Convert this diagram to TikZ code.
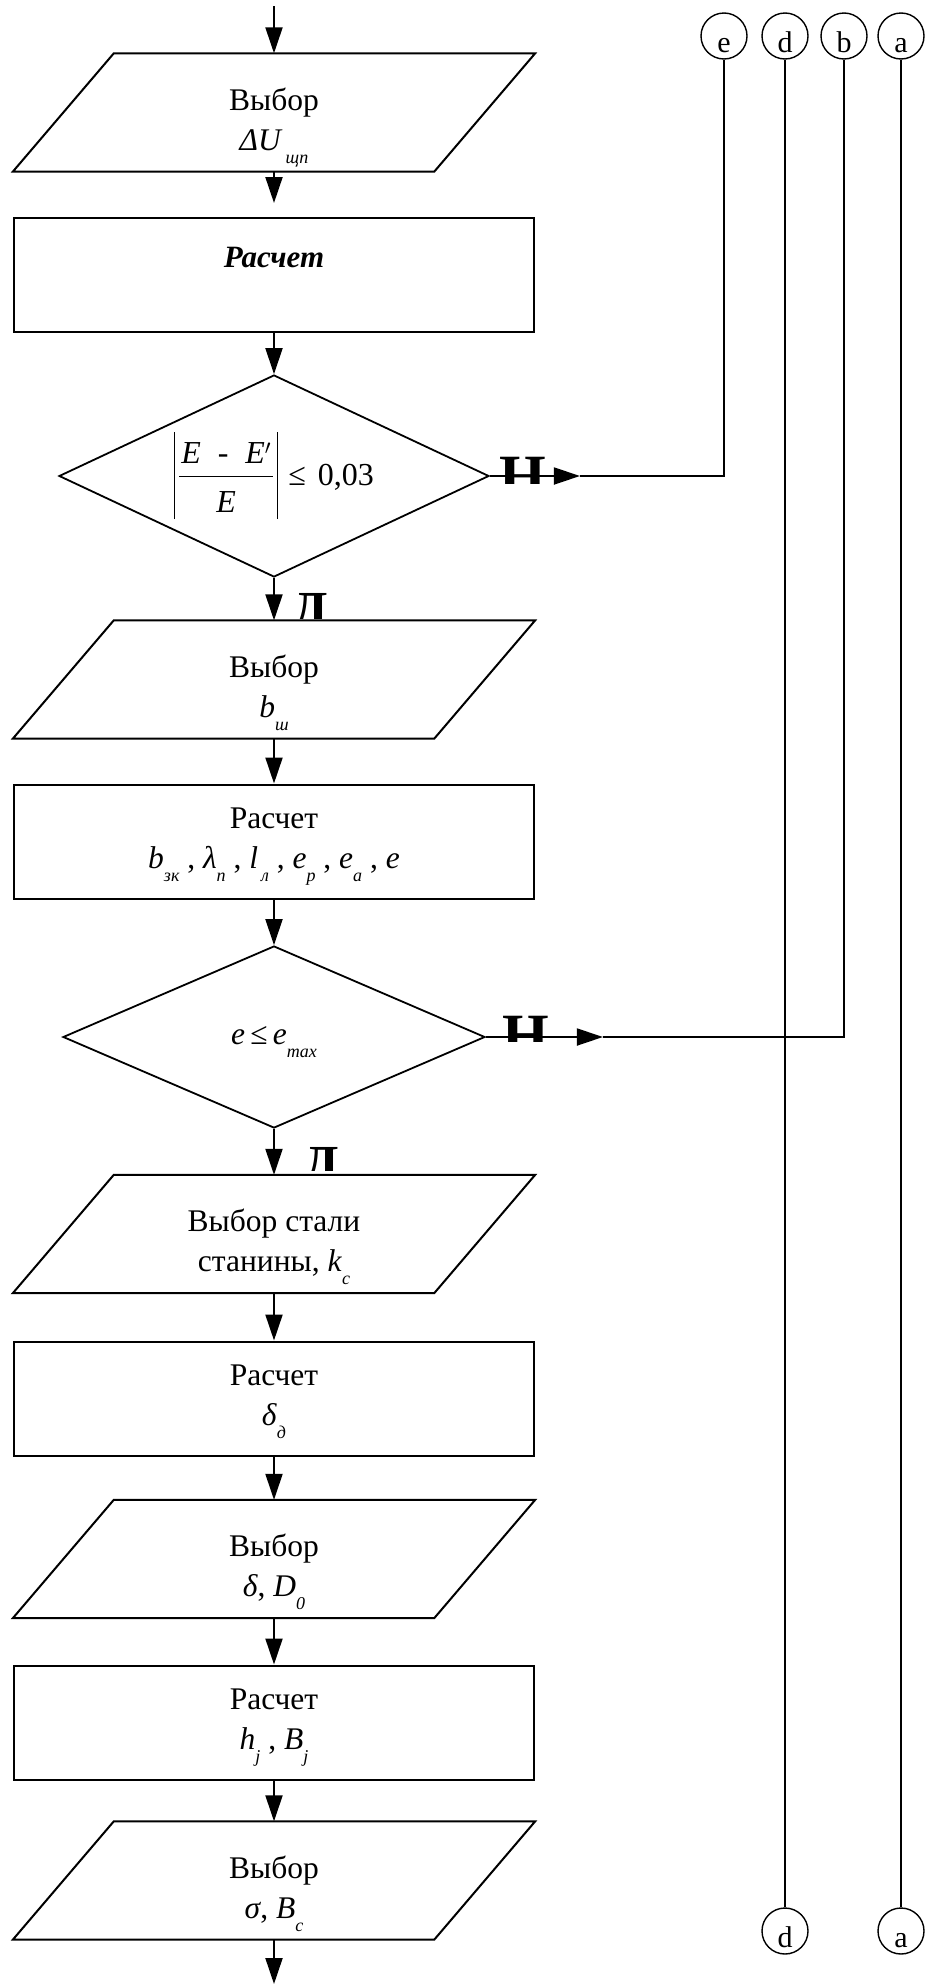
\documentclass[tikz,border=0pt]{standalone}
\usepackage{amsmath}
\usepackage{graphicx}
\usepackage{fontspec}
\setmainfont{Liberation Serif}
\usetikzlibrary{arrows.meta,shapes.geometric}

% lowered italic index, as set by the equation editor
\newcommand\lowsub[1]{\raisebox{-13pt}{\fontsize{18}{18}\selectfont\itshape #1}}
% two centred lines, reference point on the first baseline
\newcommand\boxlines[2]{\begin{tabular}[t]{@{}c@{}}#1\\#2\end{tabular}}
% fraction between two absolute-value bars
\newcommand\absbar{\vrule width 1.2pt height 53pt depth 34pt}
\newcommand\absfrac[2]{%
  \absbar\hspace{4pt}%
  \raisebox{-27pt}{\vbox{\hbox to 94pt{\hfil #1\hfil}\kern 12.5pt
    \hrule height 1.2pt\kern 14pt\hbox to 94pt{\hfil #2\hfil}}}%
  \hspace{4pt}\absbar}

\begin{document}
\begin{tikzpicture}[x=1pt,y=-1pt,
  every node/.style={font=\fontsize{31.5}{40}\selectfont},
  shapeline/.style={line width=2pt},
  conn/.style={line width=2pt},
  arr/.style={line width=2pt,-{Triangle[length=26pt,width=17pt]}},
  iobox/.style={rectangle,minimum width=421pt,minimum height=118pt,inner sep=0pt,
    text height=20pt,text depth=25pt},
  procbox/.style={rectangle,draw,shapeline,minimum width=520pt,minimum height=114pt,
    inner sep=0pt,text height=20pt,text depth=46pt},
  testbox/.style={diamond,draw,line width=1.8pt,inner sep=0pt},
  joint/.style={circle,draw,line width=1.4pt,minimum size=46pt,inner sep=0pt,
    text height=32pt,text depth=0pt,font=\fontsize{30}{36}\selectfont},
  answer/.style={inner sep=0pt,anchor=north west,font=\fontsize{60}{60}\selectfont\bfseries}
]
\useasboundingbox (0,0) rectangle (929,1984);

% main column
\node[iobox] (p1) at (274,112.5) {\boxlines{Выбор}{\textit{ΔU}\lowsub{\,щп}}};
\node[procbox,text depth=36pt,font=\fontsize{31}{40}\selectfont] (r1) at (274,275)
  {\textbf{\textit{Расчет}}};
\node[testbox,minimum width=430pt,minimum height=202pt,aspect=2.13,
  text height=40pt,text depth=22pt,font=\fontsize{32}{40}\selectfont] (d1) at (274,476)
  {\absfrac{\textit{E}\; - \;\textit{E}$'$}{\textit{E}}\hspace{10pt}≤\hspace{12pt}0,03};
\node[iobox] (p2) at (274,679.5) {\boxlines{Выбор}{\textit{b}\lowsub{ш}}};
\node[procbox] (r2) at (274,841.5)
  {\boxlines{Расчет}{\textit{b}\lowsub{зк} , \textit{λ}\lowsub{п} , \textit{l}\lowsub{\,л} , \textit{e}\lowsub{р} , \textit{e}\lowsub{а} , \textit{e}}};
\node[testbox,minimum width=422pt,minimum height=182pt,aspect=2.32,
  text height=25pt,text depth=11pt] (d2) at (274,1037)
  {\textit{e}\,≤\,\textit{e}\lowsub{max}};
\node[iobox] (p3) at (274,1234) {\boxlines{Выбор стали}{станины, \textit{k}\lowsub{c}}};
\node[procbox] (r3) at (274,1398.5) {\boxlines{Расчет}{\textit{δ}\lowsub{д}}};
\node[iobox] (p4) at (274,1559) {\boxlines{Выбор}{\textit{δ}, \textit{D}\lowsub{0}}};
\node[procbox] (r4) at (274,1722.5) {\boxlines{Расчет}{\textit{h}\lowsub{j} , \textit{B}\lowsub{j}}};
\node[iobox] (p5) at (274,1880.5) {\boxlines{Выбор}{\textit{σ}, \textit{B}\lowsub{c}}};

% data (parallelogram) outlines around the io nodes
\foreach \n in {p1,p2,p3,p4,p5}
  \draw[shapeline] ([xshift=50.5pt]\n.north west) -- ([xshift=50.5pt]\n.north east)
    -- ([xshift=-50.5pt]\n.south east) -- ([xshift=-50.5pt]\n.south west) -- cycle;

% off-page connectors
\node[joint] (ce) at (724,36) {e};
\node[joint] (cd) at (785,36) {d};
\node[joint] (cb) at (844,36) {b};
\node[joint] (ca) at (901,36) {a};
\node[joint] (cd2) at (785,1931) {d};
\node[joint] (ca2) at (901,1931) {a};

% flow
\coordinate (entry) at (274,6);
\coordinate (exit) at (274,1984);
\draw[arr] (entry) -- (p1.north);
\draw[arr,shorten >=14pt] (p1.south) -- (r1.north);
\draw[arr] (r1.south) -- (d1.north);
\draw[arr] (d1.south) -- (p2.north);
\draw[arr] (p2.south) -- (r2.north);
\draw[arr] (r2.south) -- (d2.north);
\draw[arr] (d2.south) -- (p3.north);
\draw[arr] (p3.south) -- (r3.north);
\draw[arr] (r3.south) -- (p4.north);
\draw[arr] (p4.south) -- (r4.north);
\draw[arr] (r4.south) -- (p5.north);
\draw[arr] (p5.south) -- (exit);

% "no" branches to connectors e and b
\path (d1.east) ++(90,0) coordinate (mid1);
\draw[arr] (d1.east) -- (mid1);
\draw[conn] (mid1) -| (ce.south);
\path (d2.east) ++(117,0) coordinate (mid2);
\draw[arr] (d2.east) -- (mid2);
\draw[conn] (mid2) -| (cb.south);

% through lines d and a
\draw[conn] (cd.south) -- (cd2.north);
\draw[conn] (ca.south) -- (ca2.north);

% branch letters, cut off by their frames
\begin{scope}
  \clip (495,450) rectangle (560,483);
  \node[answer] (no1) at (499,457) {Н};
\end{scope}
\begin{scope}
  \clip (495,1008) rectangle (560,1041);
  \node[answer] (no2) at (502,1016) {Н};
\end{scope}
\begin{scope}
  \clip (285,585) rectangle (345,618);
  \node[answer,font=\fontsize{52}{52}\selectfont\bfseries] (yes1) at (292,593) {Д};
\end{scope}
\begin{scope}
  \clip (296,1140) rectangle (356,1170);
  \node[answer,font=\fontsize{52}{52}\selectfont\bfseries] (yes2) at (303,1147) {Д};
\end{scope}
\end{tikzpicture}
\end{document}
